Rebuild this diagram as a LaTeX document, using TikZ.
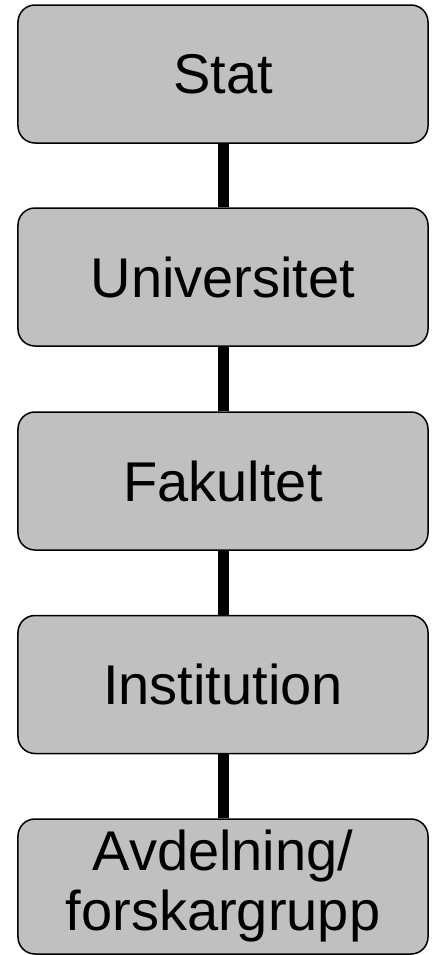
\documentclass[tikz,border=0pt]{standalone}
\usepackage{fontspec}
\setmainfont{Liberation Sans}
\definecolor{boxgray}{RGB}{192,192,192}
\tikzset{
  level/.style={draw=black,line width=1.5bp,fill=boxgray,rounded corners=17bp,
    minimum width=410bp,minimum height=138bp,inner sep=0pt,align=center,
    font=\fontsize{56bp}{60bp}\selectfont},
  link/.style={line width=11bp,black}
}
\begin{document}
\begin{tikzpicture}[x=1bp,y=-1bp]
\useasboundingbox (0,0) rectangle (432,955);
\node[level] (stat) at(223,74){Stat};
\node[level] (univ) at(223,277){Universitet};
\node[level] (fak) at(223,481){Fakultet};
\node[level] (inst) at(223,684.5){Institution};
\node[level,minimum height=135bp] (avd) at(223,886.5){Avdelning/\\forskargrupp};
\draw[link] (stat.south) -- (univ.north);
\draw[link] (univ.south) -- (fak.north);
\draw[link] (fak.south) -- (inst.north);
\draw[link] (inst.south) -- (avd.north);
\end{tikzpicture}
\end{document}
